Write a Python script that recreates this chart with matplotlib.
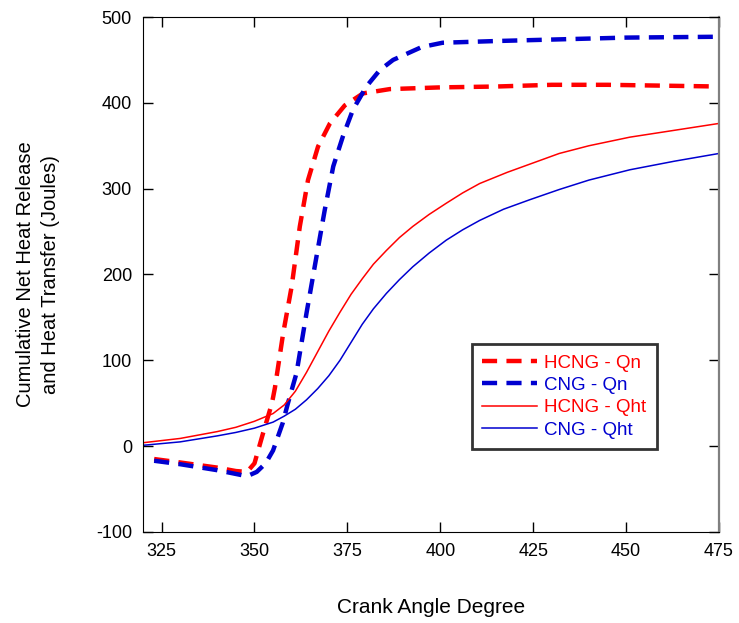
import numpy as np
import matplotlib.pyplot as plt

plt.rcParams['font.family'] = ['Liberation Sans', 'DejaVu Sans']
plt.rcParams['axes.unicode_minus'] = False

# crank angle / cumulative heat (J)
hcng_qn_x = [323, 330, 340, 345, 348, 350, 352.3, 354.7, 355.5, 357.7, 360, 362.2, 364.4, 367.1,
             370.3, 374.3, 379.2, 386.4, 400, 415, 430, 445, 460, 475]
hcng_qn_y = [-15, -19, -25, -29, -30, -20, 15, 50, 68, 131, 186, 256, 310, 349,
             376, 397, 411, 416, 418, 419, 421, 421, 420, 419]

cng_qn_x = [323, 330, 340, 348, 350.6, 353, 355, 357.6, 359, 361.3, 364, 366.2, 368.9, 371.2,
            373.8, 376.5, 380.1, 383.7, 387.3, 395, 400.6, 415, 450, 475]
cng_qn_y = [-17, -21, -28, -35, -30, -20, -5, 27, 50, 85, 155, 209, 275, 326,
            361, 392, 419, 438, 450, 465, 470, 472, 476, 477]

hcng_qht_x = [320, 330, 340, 345, 350, 355, 358, 361, 364, 367, 370, 373, 376, 379, 382,
              385.5, 389, 392.6, 397, 401.6, 406, 410.6, 418, 425, 432, 440, 451, 463, 475]
hcng_qht_y = [4, 9, 17, 22, 29, 38, 48, 64, 86, 110, 134, 156, 177, 195, 212,
              228, 243, 256, 270, 283, 295, 306, 319, 330, 341, 350, 360, 368, 376]

cng_qht_x = [320, 330, 340, 345, 350, 355, 358, 361, 364, 367, 370, 373, 376, 379, 382,
             385.5, 389, 392.6, 397, 401.6, 406, 410.6, 417, 424, 432, 440, 451, 463, 475]
cng_qht_y = [1, 5, 12, 16, 21, 28, 35, 43, 54, 67, 82, 100, 121, 142, 160,
             178, 194, 209, 225, 240, 252, 263, 276, 287, 299, 310, 322, 332, 341]

red = '#ff0000'
blue = '#0000d0'

fig = plt.figure(figsize=(7.39, 6.23), dpi=100)
ax = fig.add_axes([143/739, 1-532/623, 576/739, 515/623])

ax.plot(hcng_qn_x, hcng_qn_y, color=red, lw=3.2, dashes=(3.4, 2.1), label='HCNG - Qn')
ax.plot(cng_qn_x, cng_qn_y, color=blue, lw=3.2, dashes=(3.4, 2.1), label='CNG - Qn')
ax.plot(hcng_qht_x, hcng_qht_y, color=red, lw=1.1, label='HCNG - Qht')
ax.plot(cng_qht_x, cng_qht_y, color=blue, lw=1.1, label='CNG - Qht')

ax.set_xlim(320, 475)
ax.set_ylim(-100, 500)
ax.set_xticks([325, 350, 375, 400, 425, 450, 475])
ax.set_yticks([-100, 0, 100, 200, 300, 400, 500])
ax.tick_params(direction='in', length=7.5, width=1, top=True, right=True, labelsize=13, pad=8)
ax.spines['right'].set_color('#808080')
ax.spines['right'].set_linewidth(1.6)

ax.set_xlabel('Crank Angle Degree', fontsize=15, labelpad=27)
ax.set_ylabel('Cumulative Net Heat Release\nand Heat Transfer (Joules)', fontsize=14.5,
              labelpad=26, linespacing=1.4)

leg = ax.legend(loc='lower left', bbox_to_anchor=(0.571, 0.161), fontsize=13.5,
                frameon=True, fancybox=False, handlelength=2.9, handletextpad=0.4,
                labelspacing=0.28, borderpad=0.55, borderaxespad=0)
leg.get_frame().set_edgecolor('black')
leg.get_frame().set_linewidth(2)
for txt, c in zip(leg.get_texts(), [red, blue, red, blue]):
    txt.set_color(c)

fig.savefig('out.png', dpi=100)
